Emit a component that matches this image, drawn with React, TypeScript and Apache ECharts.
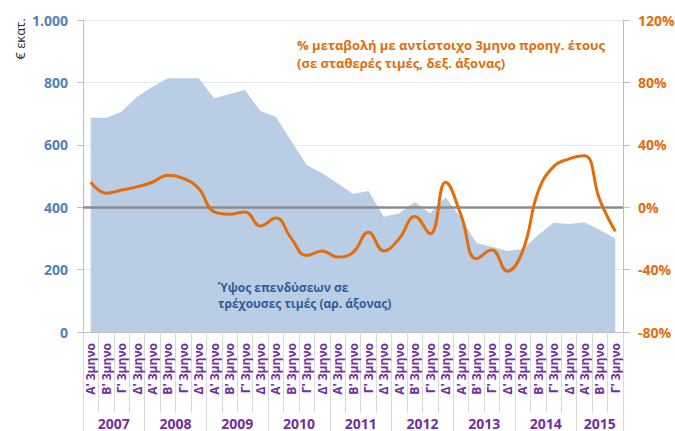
import React, { useEffect, useRef } from "react";
import * as echarts from "echarts";

const quarterNames = ["Α' 3μηνο", "Β' 3μηνο", "Γ' 3μηνο", "Δ' 3μηνο"];
const years = ["2007", "2008", "2009", "2010", "2011", "2012", "2013", "2014", "2015"];
const quarterCounts = [4, 4, 4, 4, 4, 4, 4, 4, 3];

// Investment level, current prices (€ mn, left axis)
const investment = [
  687, 687, 706, 754, 786, 813, 813, 813, 749, 763, 776, 708, 690, 612, 535, 509, 477, 442,
  452, 369, 381, 417, 381, 432, 365, 285, 273, 260, 265, 311, 350, 346, 352, 327, 300,
];
// % change vs same quarter of previous year, constant prices (right axis)
const yoyChange = [
  16, 9, 11, 13, 16, 20.5, 18.5, 12, -3, -4.5, -3, -12, -7, -20, -31, -28, -32, -29, -16, -28,
  -20, -6, -17, 16, -5, -33, -27.5, -41, -28, 10, 26, 31, 33, 4.5, -15.5,
];

const leftTicks = { min: 0, max: 1000, interval: 200 };
const rightTicks = { min: -80, max: 120, interval: 40 };

const FONT = "Open Sans";

export default function App() {
  const ref = useRef<HTMLDivElement>(null);

  useEffect(() => {
    if (!ref.current) return;
    const chart = echarts.init(ref.current, undefined, { renderer: "svg" });

    const categories: string[] = [];
    quarterCounts.forEach((n) => {
      for (let q = 0; q < n; q++) categories.push(quarterNames[q]);
    });

    // half-quarter positions for the year axis (boundaryGap false)
    const total = categories.length * 2; // 70
    const yearAxisData: string[] = [];
    const yearTickIdx = new Set<number>();
    let pos = 0;
    yearTickIdx.add(0);
    const yearCenters: Record<number, string> = {};
    years.forEach((y, i) => {
      const len = quarterCounts[i] * 2;
      yearCenters[pos + len / 2] = y;
      pos += len;
      yearTickIdx.add(pos);
    });
    for (let i = 0; i <= total; i++) yearAxisData.push(yearCenters[i] || "");

    const gridColor = "#D9D9D9";

    chart.setOption({
      animation: false,
      grid: {
        left: 83,
        right: 52,
        top: 20,
        bottom: 99,
        containLabel: false,
        outerBoundsMode: "none",
      },
      xAxis: [
        {
          type: "category",
          data: categories,
          boundaryGap: true,
          axisLine: { show: true, onZero: false, lineStyle: { color: "#BFBFBF", width: 1 } },
          axisTick: { show: true, interval: 0, length: 81, lineStyle: { color: gridColor } },
          axisLabel: {
            interval: 0,
            rotate: 90,
            margin: 11,
            color: "#7030A0",
            fontFamily: FONT,
            fontWeight: "bold",
            fontSize: 12,
          },
          splitLine: { show: false },
        },
        {
          type: "category",
          data: yearAxisData,
          boundaryGap: false,
          position: "bottom",
          axisLine: { show: false },
          axisTick: {
            show: true,
            interval: (idx: number) => yearTickIdx.has(idx),
            length: 99,
            lineStyle: { color: gridColor },
          },
          axisLabel: {
            interval: (idx: number, val: string) => val !== "",
            margin: 84,
            color: "#7030A0",
            fontFamily: FONT,
            fontWeight: "bold",
            fontSize: 14,
          },
          splitLine: { show: false },
        },
      ],
      yAxis: [
        {
          type: "value",
          ...leftTicks,
          position: "left",
          axisLine: { show: true, lineStyle: { color: "#BFBFBF" } },
          axisTick: { show: true, length: 6, lineStyle: { color: "#BFBFBF" } },
          splitLine: { show: true, lineStyle: { color: "#E6E6E6" } },
          axisLabel: {
            margin: 15,
            color: "#4F81BD",
            fontFamily: FONT,
            fontWeight: "bold",
            fontSize: 14,
            formatter: (v: number) =>
              v >= 1000 ? `${Math.floor(v / 1000)}.${String(v % 1000).padStart(3, "0")}` : `${v}`,
          },
        },
        {
          type: "value",
          ...rightTicks,
          position: "right",
          axisLine: { show: true, lineStyle: { color: "#BFBFBF" } },
          axisTick: { show: true, length: 7, lineStyle: { color: "#BFBFBF" } },
          splitLine: { show: false },
          axisLabel: {
            margin: 15,
            color: "#E46C0A",
            fontFamily: FONT,
            fontWeight: "bold",
            fontSize: 14,
            formatter: (v: number) => `${v}%`,
          },
        },
      ],
      series: [
        {
          type: "line",
          name: "Ύψος επενδύσεων",
          data: investment,
          xAxisIndex: 0,
          yAxisIndex: 0,
          symbol: "none",
          lineStyle: { width: 0 },
          areaStyle: { color: "#B9CDE5", opacity: 1 },
          z: 2,
          markLine: {
            silent: true,
            symbol: "none",
            label: { show: false },
            lineStyle: { color: "#8C8C8C", width: 2.5, type: "solid" },
            data: [{ yAxis: 400 }],
          },
        },
        {
          type: "line",
          name: "% μεταβολή",
          data: yoyChange,
          xAxisIndex: 0,
          yAxisIndex: 1,
          symbol: "none",
          smooth: 0.45,
          lineStyle: { color: "#E46C0A", width: 3 },
          z: 5,
        },
      ],
      graphic: [
        {
          type: "text",
          x: 20,
          y: 39,
          rotation: Math.PI / 2,
          style: {
            text: "€ εκατ.",
            fill: "#262626",
            font: `13px "${FONT}"`,
            textAlign: "center",
            textVerticalAlign: "middle",
          },
        },
        {
          type: "text",
          x: 297,
          y: 45,
          style: {
            text: "% μεταβολή με αντίστοιχο 3μηνο προηγ. έτους",
            fill: "#E46C0A",
            font: `bold 13px "${FONT}"`,
            textAlign: "left",
            textVerticalAlign: "middle",
          },
        },
        {
          type: "text",
          x: 297,
          y: 63,
          style: {
            text: "(σε σταθερές τιμές, δεξ. άξονας)",
            fill: "#E46C0A",
            font: `bold 13px "${FONT}"`,
            textAlign: "left",
            textVerticalAlign: "middle",
          },
        },
        {
          type: "text",
          x: 218,
          y: 287,
          z: 10,
          style: {
            text: "Ύψος επενδύσεων σε",
            fill: "#2F5C9A",
            font: `bold 12px "${FONT}"`,
            textAlign: "left",
            textVerticalAlign: "middle",
          },
        },
        {
          type: "text",
          x: 218,
          y: 303,
          z: 10,
          style: {
            text: "τρέχουσες τιμές (αρ. άξονας)",
            fill: "#2F5C9A",
            font: `bold 12px "${FONT}"`,
            textAlign: "left",
            textVerticalAlign: "middle",
          },
        },
      ],
    });

    return () => chart.dispose();
  }, []);

  return <div ref={ref} style={{ width: 675, height: 431, position: "absolute", left: 0, top: 0 }} />;
}
